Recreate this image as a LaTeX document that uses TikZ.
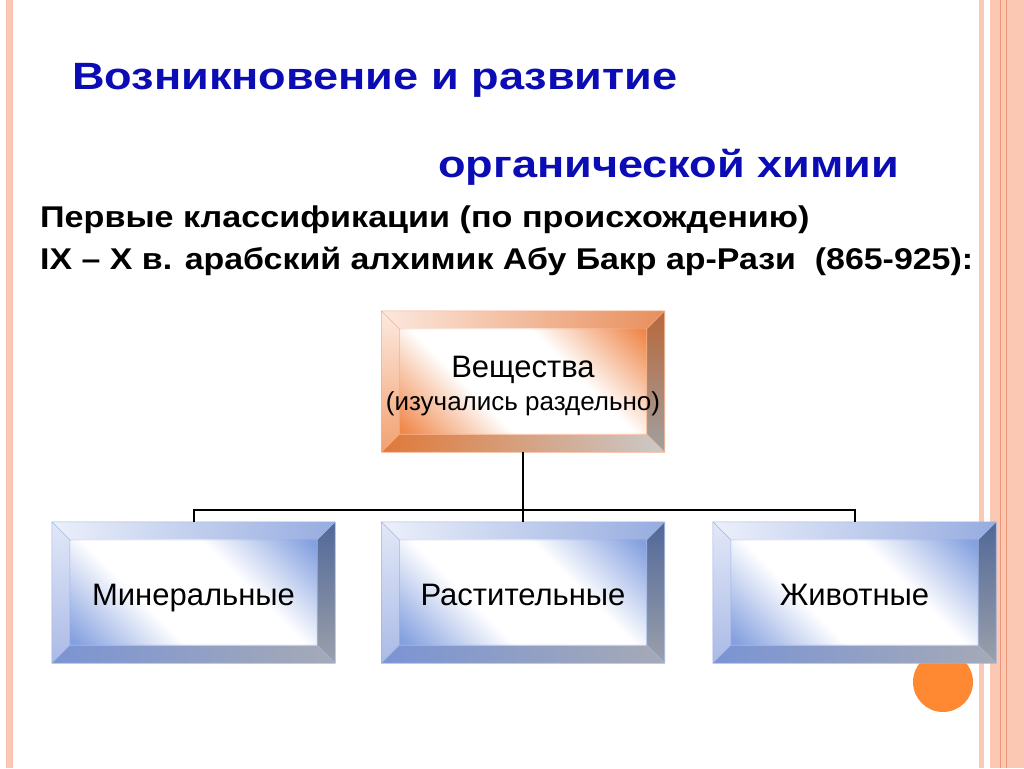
\documentclass[tikz,border=0pt]{standalone}
\usepackage{fontspec}
\setmainfont{Liberation Sans}
\usetikzlibrary{calc,backgrounds}
\definecolor{titleblue}{RGB}{12,12,180}
\definecolor{salmon}{RGB}{251,200,180}
\definecolor{salmondk}{RGB}{236,150,120}
\definecolor{dotorange}{RGB}{255,136,51}
% blue box palette
\definecolor{bTopL}{RGB}{236,240,250}
\definecolor{bTopR}{RGB}{150,172,224}
\definecolor{bLeftT}{RGB}{226,232,248}
\definecolor{bLeftB}{RGB}{170,186,230}
\definecolor{bRightT}{RGB}{80,104,152}
\definecolor{bRightB}{RGB}{156,160,170}
\definecolor{bBotL}{RGB}{122,148,212}
\definecolor{bBotR}{RGB}{166,170,182}
\definecolor{bFace}{RGB}{132,160,224}
\definecolor{bLine}{RGB}{160,180,226}
% orange box palette
\definecolor{oTopL}{RGB}{252,232,222}
\definecolor{oTopR}{RGB}{232,142,92}
\definecolor{oLeftT}{RGB}{252,234,224}
\definecolor{oLeftB}{RGB}{242,160,112}
\definecolor{oRightT}{RGB}{184,104,58}
\definecolor{oRightB}{RGB}{160,160,160}
\definecolor{oBotL}{RGB}{224,120,56}
\definecolor{oBotR}{RGB}{202,202,202}
\definecolor{oFace}{RGB}{240,136,76}
\definecolor{oLine}{RGB}{245,176,138}
\pgfdeclarehorizontalshading{bFaceShade}{100bp}{color(0bp)=(bFace); color(16bp)=(bFace);
  color(38bp)=(white); color(62bp)=(white); color(84bp)=(bFace); color(100bp)=(bFace)}
\pgfdeclarehorizontalshading{oFaceShade}{100bp}{color(0bp)=(oFace); color(16bp)=(oFace);
  color(38bp)=(white); color(62bp)=(white); color(84bp)=(oFace); color(100bp)=(oFace)}
\tikzset{
  boxnode/.style={minimum width=283pt,minimum height=141pt,inner sep=0pt},
  boxlabel/.style={inner sep=0pt,align=center,text=black,
    font=\fontsize{31}{33}\selectfont},
  onelabel/.style={boxlabel,text height=22pt,text depth=6pt},
  titletext/.style={anchor=base west,inner sep=0pt,text=titleblue,
    font=\fontsize{38}{40}\selectfont\bfseries},
  subtext/.style={anchor=base west,inner sep=0pt,text=black,
    font=\fontsize{30}{32}\selectfont\bfseries},
  link/.style={draw=black,line width=2pt}
}
\newcommand\bevelbox[2]{%
  \coordinate (bvA) at (#1.north west);
  \coordinate (bvB) at (#1.north east);
  \coordinate (bvC) at (#1.south east);
  \coordinate (bvD) at (#1.south west);
  \coordinate (bva) at ($(bvA)+(18,18)$);
  \coordinate (bvb) at ($(bvB)+(-18,18)$);
  \coordinate (bvc) at ($(bvC)+(-18,-18)$);
  \coordinate (bvd) at ($(bvD)+(18,-18)$);
  \shade[left color=#2TopL,right color=#2TopR] (bvA)--(bvB)--(bvb)--(bva)--cycle;
  \shade[top color=#2LeftT,bottom color=#2LeftB] (bvA)--(bva)--(bvd)--(bvD)--cycle;
  \shade[top color=#2RightT,bottom color=#2RightB] (bvB)--(bvC)--(bvc)--(bvb)--cycle;
  \shade[left color=#2BotL,right color=#2BotR] (bvD)--(bvd)--(bvc)--(bvC)--cycle;
  \shade[shading=#2FaceShade,shading angle=45] (bva)--(bvb)--(bvc)--(bvd)--cycle;
  \draw[#2Line,line width=0.6pt] (bvA)--(bvB)--(bvC)--(bvD)--cycle (bva)--(bvb)--(bvc)--(bvd)--cycle
    (bvA)--(bva) (bvB)--(bvb) (bvC)--(bvc) (bvD)--(bvd);}
\begin{document}
\begin{tikzpicture}[x=1pt,y=-1pt]
\useasboundingbox (0,0) rectangle (1024,768);
% page decorations
\fill[salmon] (6,0) rectangle (12,768);
\draw[salmondk!60,line width=0.5pt] (6,0)--(6,768) (12,0)--(12,768);
\fill[salmon] (979,0) rectangle (984,768);
\fill[salmon] (990,0) rectangle (1024,768);
\draw[salmondk,line width=0.8pt] (1000,0)--(1000,768) (1006,0)--(1006,768);
\fill[dotorange] (943,682) circle (30);
% titles
\node[titletext] (t1) at (72,89) {\scalebox{1.187}[1]{Возникновение и развитие}};
\node[titletext] (t2) at (438,177) {\scalebox{1.187}[1]{органической химии}};
\node[subtext] (s1) at (40,227) {\scalebox{1.138}[1]{Первые классификации (по происхождению)}};
\node[subtext] (s2) at (40,269) {\scalebox{1.13}[1]{IX – X в. арабский алхимик Абу Бакр ар-Рази\ \ (865-925):}};
% boxes
\node[boxnode] (top) at (523,381.5) {};
\node[boxnode] (m) at (193.5,592.5) {};
\node[boxnode] (r) at (523,592.5) {};
\node[boxnode] (a) at (854.5,592.5) {};
\bevelbox{top}{o}
\bevelbox{m}{b}
\bevelbox{r}{b}
\bevelbox{a}{b}
\node[boxlabel] (topl) at ($(top.center)+(0,5)$) {Вещества\\[0pt]{\fontsize{26}{30}\selectfont(изучались раздельно)}};
\node[onelabel] (ml) at ($(m.center)+(0,5)$) {Минеральные};
\node[onelabel] (rl) at ($(r.center)+(0,5)$) {Растительные};
\node[onelabel] (al) at ($(a.center)+(0,5)$) {Животные};
% connectors
\coordinate (bus) at (0,510);
\draw[link] (top.south) -- (r.north);
\draw[link] (m.north) -- (m.north |- bus) -- (a.north |- bus) -- (a.north);
\end{tikzpicture}
\end{document}
